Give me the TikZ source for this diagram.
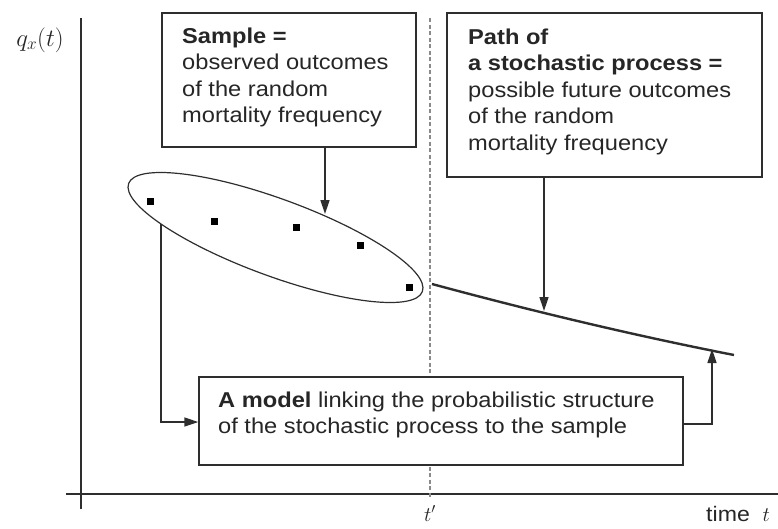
\documentclass[tikz,border=0pt]{standalone}
\usepackage{fontspec}
\setmainfont[FakeStretch=1.1]{Liberation Sans}
\usetikzlibrary{arrows.meta,shapes.geometric}
\definecolor{ln}{HTML}{2E2E2E}
\definecolor{dsh}{HTML}{8A8A8A}
\definecolor{txt}{HTML}{262626}
\begin{document}
\begin{tikzpicture}[x=1pt,y=-1pt,
  boxstyle/.style={draw=ln, fill=white, line width=1.4pt, rectangle, inner sep=0pt},
  txtstyle/.style={align=left, anchor=north west, inner sep=0pt, text=txt,
                   font=\fontsize{21.5}{26.5}\selectfont},
  arr/.style={draw=ln, line width=1.4pt, -{Triangle[length=14pt,width=9pt]}},
  pt/.style={fill=black, draw=none, minimum size=7pt, inner sep=0pt, rectangle},
]
\useasboundingbox (0,0) rectangle (778,528);

% axes
\coordinate (ytop) at (81,18);
\coordinate (ybot) at (81,509);
\coordinate (xl) at (66,494);
\coordinate (xr) at (790,494);
\draw[ln, line width=1.8pt] (ytop) -- (ybot);
\draw[ln, line width=1.8pt] (xl) -- (xr);

% dashed t' line
\coordinate (dtop) at (430,18);
\coordinate (dbot) at (430,498);
\draw[dsh, line width=1.1pt, dash pattern=on 4pt off 2.5pt] (dtop) -- (dbot);

% axis labels
\node[anchor=base, inner sep=0pt, text=txt, font=\fontsize{23}{26}\selectfont] (qlab) at (40,46) {$q_x(t)$};
\node[anchor=base, inner sep=0pt, text=txt, font=\fontsize{22}{26}\selectfont] (tplab) at (430,521) {$t'$};
\node[anchor=base west, inner sep=0pt, text=txt, font=\fontsize{21}{26}\selectfont] (timelab) at (706,521) {time\ \ $t$};

% ellipse around sample
\node[draw=ln, line width=1.2pt, ellipse, rotate=-20.2, minimum width=313pt, minimum height=77pt, inner sep=0pt] (samp) at (275.5,237.5) {};

% sample points
\node[pt] (p1) at (150,201) {};
\node[pt] (p2) at (214,221) {};
\node[pt] (p3) at (296,227) {};
\node[pt] (p4) at (360,245) {};
\node[pt] (p5) at (409,287) {};

% path of the process
\coordinate (cs) at (432,284);
\coordinate (ce) at (734,355);
\draw[ln, line width=2.4pt] (cs) .. controls (532,311) and (632,335) .. (ce);

% boxes
\node[boxstyle, minimum width=254pt, minimum height=134pt] (sample) at (289,80) {};
\node[txtstyle] (sampletext) at (182,27.5) {\textbf{Sample =}\\observed outcomes\\of the random\\mortality frequency};

\node[boxstyle, minimum width=315pt, minimum height=164pt] (path) at (604.5,95) {};
\node[txtstyle] (pathtext) at (468,28.5) {\textbf{Path of}\\\textbf{a stochastic process =}\\possible future outcomes\\of the random\\mortality frequency};

\node[boxstyle, minimum width=484pt, minimum height=88pt] (model) at (441,421) {};
\node[txtstyle] (modeltext) at (218,391.5) {\textbf{A model} linking the probabilistic structure\\of the stochastic process to the sample};

% connectors
\coordinate (sEnd) at (325,214);
\draw[arr] (sample.south -| sEnd) -- (sEnd);

\coordinate (pEnd) at (544,311);
\draw[arr] (path.south -| pEnd) -- (pEnd);

\coordinate (lStart) at (161,224);
\coordinate (lY) at (0,422);
\draw[arr] (lStart) |- (model.west |- lY);

\coordinate (rY) at (0,424);
\coordinate (rEnd) at (712,349);
\draw[arr] (model.east |- rY) -| (rEnd);
\end{tikzpicture}
\end{document}
